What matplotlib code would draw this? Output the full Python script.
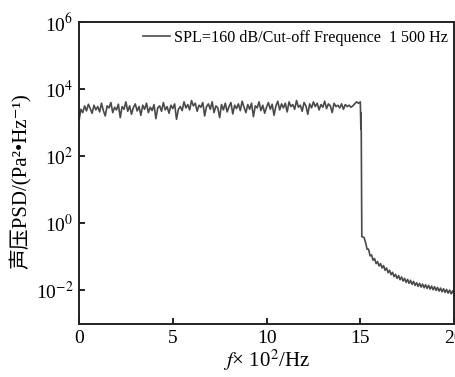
import numpy as np
import matplotlib
matplotlib.use("Agg")
import matplotlib.pyplot as plt

plt.rcParams['font.family'] = ['Liberation Serif', 'Noto Sans CJK SC', 'DejaVu Serif']
plt.rcParams['mathtext.fontset'] = 'stix'

# Flat band region (log10 PSD), x from 0 to 14.9 step 0.1 (x in 100 Hz)
flat_log = [
    3.05, 3.40, 3.30, 3.50, 3.35, 3.55, 3.42, 3.28, 3.52, 3.38,
    3.48, 3.32, 3.58, 3.36, 3.20, 3.50, 3.44, 3.60, 3.30, 3.46,
    3.38, 3.55, 3.15, 3.48, 3.40, 3.62, 3.34, 3.50, 3.25, 3.45,
    3.56, 3.35, 3.48, 3.22, 3.52, 3.40, 3.58, 3.30, 3.46, 3.36,
    3.54, 3.12, 3.44, 3.50, 3.34, 3.60, 3.38, 3.48, 3.28, 3.52,
    3.42, 3.56, 3.10, 3.40, 3.48, 3.36, 3.62, 3.44, 3.54, 3.38,
    3.66, 3.50, 3.58, 3.34, 3.52, 3.46, 3.60, 3.20, 3.48, 3.56,
    3.40, 3.62, 3.30, 3.50, 3.44, 3.15, 3.54, 3.38, 3.58, 3.32,
    3.48, 3.60, 3.26, 3.52, 3.42, 3.56, 3.36, 3.64, 3.46, 3.30,
    3.54, 3.40, 3.58, 3.18, 3.50, 3.44, 3.62, 3.36, 3.52, 3.28,
    3.46, 3.60, 3.40, 3.55, 3.22, 3.50, 3.64, 3.38, 3.56, 3.44,
    3.58, 3.32, 3.62, 3.48, 3.54, 3.40, 3.66, 3.46, 3.52, 3.34,
    3.60, 3.50, 3.25, 3.56, 3.44, 3.62, 3.48, 3.58, 3.38, 3.54,
    3.46, 3.64, 3.42, 3.56, 3.50, 3.30, 3.58, 3.48, 3.52, 3.44,
    3.56, 3.40, 3.54, 3.48, 3.52, 3.46, 3.50, 3.56, 3.62, 3.58,
]

# Cut-off transition
edge_x = [15.00, 15.03, 15.04, 15.05, 15.08, 15.20]
edge_log = [3.62, 2.80, 3.30, 2.72, -0.40, -0.42]

# Tail region, x from 15.28 step 0.08 to 20.0
tail_log = [
    -0.57, -0.77, -0.77, -0.97, -0.94, -1.10, -1.05, -1.20, -1.14, -1.27,
    -1.20, -1.33, -1.26, -1.40, -1.33, -1.47, -1.40, -1.53, -1.46, -1.59,
    -1.52, -1.64, -1.56, -1.68, -1.60, -1.72, -1.64, -1.76, -1.67, -1.79,
    -1.70, -1.82, -1.73, -1.85, -1.77, -1.88, -1.79, -1.90, -1.81, -1.92,
    -1.83, -1.94, -1.85, -1.96, -1.87, -1.98, -1.89, -2.00, -1.91, -2.02,
    -1.93, -2.04, -1.95, -2.06, -1.97, -2.08, -1.99, -2.10, -2.01, -2.13,
]

flat_x = np.arange(len(flat_log)) * 0.1
tail_x = 15.28 + np.arange(len(tail_log)) * 0.08

x = np.concatenate([flat_x, edge_x, tail_x])
y = 10 ** np.concatenate([flat_log, edge_log, tail_log])

fig = plt.figure(figsize=(4.55, 3.77), dpi=100)
ax = fig.add_axes([0.1736, 0.1406, 0.8244, 0.801])

ax.plot(x, y, color='#4a4a4a', lw=1.2,
        label='SPL=160 dB/Cut-off Frequence  1 500 Hz')
ax.set_yscale('log')
ax.set_xlim(0, 20)
ax.set_ylim(1e-3, 1e6)
ax.set_xticks([0, 5, 10, 15, 20])
ax.set_yticks([1e-2, 1e0, 1e2, 1e4, 1e6])
ax.set_yticklabels(['10$^{-2}$', '10$^{0}$', '10$^{2}$', '10$^{4}$', '10$^{6}$'])
ax.yaxis.set_minor_locator(matplotlib.ticker.NullLocator())
ax.tick_params(direction='in', length=4, width=1.2, labelsize=14, pad=4)
for s in ax.spines.values():
    s.set_linewidth(1.4)
    s.set_color('#222222')

ax.set_xlabel('$f$× 10$^{2}$/Hz', fontsize=15, labelpad=1)
ax.set_ylabel('声压PSD/(Pa²•Hz⁻¹)', fontsize=15,
              family=['Liberation Serif', 'Noto Sans CJK SC', 'DejaVu Serif'])
ax.yaxis.set_label_coords(-0.125, 0.473)

ax.legend(loc='upper right', frameon=False, fontsize=11.6, handlelength=1.7,
          handletextpad=0.2, borderaxespad=0.0, bbox_to_anchor=(1.0, 0.995))

fig.savefig('out.png', dpi=100)
